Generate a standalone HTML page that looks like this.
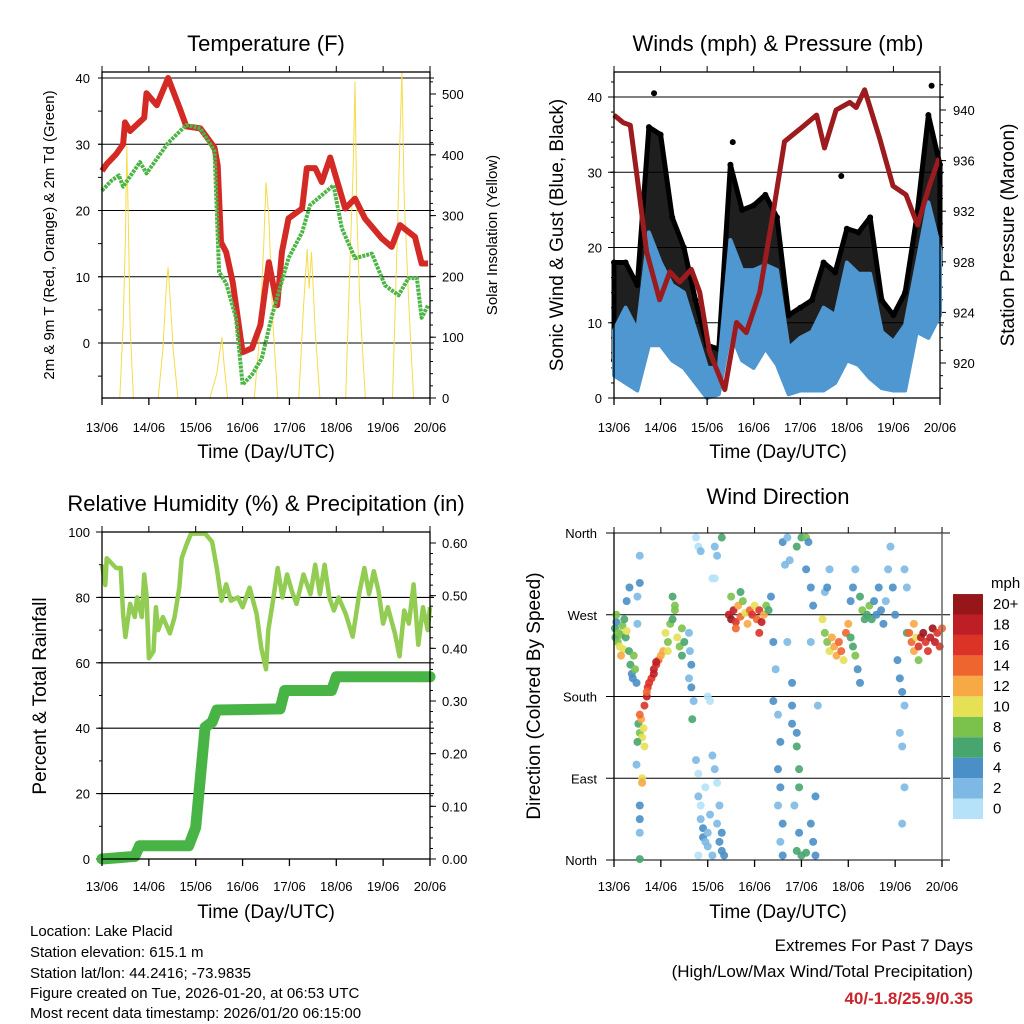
<!DOCTYPE html>
<html><head><meta charset="utf-8">
<style>
body{margin:0;background:#fff}
svg{display:block;font-family:"Liberation Sans",Arial,sans-serif}
</style></head><body>
<svg id="c" width="1024" height="1024" viewBox="0 0 1024 1024" xmlns="http://www.w3.org/2000/svg">
<rect width="1024" height="1024" fill="#fff"/>
<g id="g1"></g>
<g id="g2"></g>
<g id="g3"></g>
<g id="g4"></g>
<g font-size="15" fill="#000">
<text x="30" y="936">Location: Lake Placid</text>
<text x="30" y="957">Station elevation: 615.1 m</text>
<text x="30" y="978">Station lat/lon: 44.2416; -73.9835</text>
<text x="30" y="998">Figure created on Tue, 2026-01-20, at 06:53 UTC</text>
<text x="30" y="1018">Most recent data timestamp: 2026/01/20 06:15:00</text>
</g>
<g text-anchor="end">
<text x="973" y="951" font-size="17">Extremes For Past 7 Days</text>
<text x="973" y="977" font-size="17">(High/Low/Max Wind/Total Precipitation)</text>
<text x="973" y="1004" font-size="17" font-weight="bold" fill="#c8262c">40/-1.8/25.9/0.35</text>
</g>
</svg>
<script>
const dayLabels=["13/06","14/06","15/06","16/06","17/06","18/06","19/06","20/06"];
// Temperature panel
const tempDays=[0,0.1,0.3,0.45,0.49,0.6,0.75,0.9,0.95,1.17,1.41,1.66,1.8,2.1,2.4,2.47,2.54,2.65,2.79,3.0,3.2,3.38,3.56,3.74,3.84,3.98,4.27,4.37,4.55,4.69,4.87,5.19,5.4,5.61,5.97,6.18,6.36,6.68,6.82,6.96];
const tempVals=[26,27,28.5,30,33.3,32,33,34,37.7,35.9,40,35.4,32.7,32.4,29.5,26.8,15.2,13.7,9.2,-1.4,-0.8,2.7,12.2,5.7,13.7,18.8,20.3,26.4,26.4,24.3,28,20.3,21.8,18.8,15.8,14.5,17.8,16,12,12];
const dewDays=[0,0.2,0.36,0.45,0.81,0.95,1.41,1.8,2.1,2.4,2.5,2.65,2.86,3.0,3.2,3.41,3.63,3.98,4.27,4.44,4.94,5.12,5.4,5.76,6.04,6.33,6.54,6.72,6.82,6.96];
const dewVals=[23,24.5,25.3,23.6,27.3,25.6,30.2,32.9,32.4,29,10.7,9,3.8,-6.3,-4.8,-2.3,4.2,12.8,16.7,20.8,23.8,17.3,12.8,13.5,8.7,7.2,9.8,9.8,3.8,5.7];
const solarDays=[0,0.38,0.45,0.5,0.53,0.56,0.6,0.67,1.2,1.3,1.37,1.41,1.45,1.52,1.62,2.3,2.45,2.52,2.56,2.6,2.68,3.25,3.35,3.45,3.5,3.56,3.65,3.75,4.2,4.3,4.38,4.42,4.47,4.55,4.65,5.2,5.3,5.36,5.4,5.44,5.5,5.62,6.2,6.3,6.36,6.4,6.45,6.55,6.65,7];
const solarVals=[0,0,120,260,415,300,120,0,0,80,180,215,170,80,0,0,40,80,100,60,0,0,90,250,355,300,120,0,0,150,245,180,240,110,0,0,240,380,520,300,160,0,0,260,430,535,330,150,0,0];
// Winds panel
const windDays=[0,0.25,0.5,0.75,1,1.25,1.5,1.75,2,2.25,2.5,2.75,3,3.25,3.5,3.75,4,4.25,4.5,4.75,5,5.25,5.5,5.75,6,6.25,6.5,6.75,7];
const gustHi=[18,18,15,36,35,24,20,13,7,6.5,31,25,25.6,27,24,11,12,13,18,16.7,22.5,22,24,13,11,14,24,37.6,31];
const gustLo=[5,9,7,12.5,15,11,9,4,1,2,9,12,11,15.5,13,3.5,4,4.4,6.6,6.6,11,8.8,6.6,5,4.4,3.5,11,17,17.7];
const sonicHi=[9,12,9,22,18,15,14,9,4,4,21,17,17,17.7,17,6.6,8,8.8,12,11,18,16.5,16.5,8.8,7.5,9.7,17.7,26,19.8];
const sonicLo=[3,2,1,7,7,5,4,2,0,0.5,8.8,5,4,6.6,4.4,0.5,1,1,1,2,5,4.4,2.6,1.3,1,1,8.8,8,11];
const gustOutDays=[0.86,2.55,6.82,4.88];
const gustOutVals=[40.5,34,41.5,29.5];
const presDays=[0,0.2,0.35,0.49,0.7,0.98,1.2,1.41,1.66,1.84,2.05,2.38,2.63,2.84,3.13,3.41,3.66,4.06,4.35,4.52,4.77,5.06,5.2,5.38,5.7,5.99,6.27,6.52,6.77,6.98];
const presVals=[939.6,939,938.8,934.9,928.8,925,927.2,926.4,927.4,925.6,920.9,917.9,923.2,922.4,925.6,931.7,937.5,938.7,939.6,937,940,940.6,940.2,941.6,937.8,934,933.3,930.9,934,936.2];
// Humidity panel
const rhDays=[0,0.07,0.1,0.3,0.4,0.45,0.5,0.6,0.7,0.75,0.85,0.9,0.95,1.0,1.1,1.15,1.2,1.3,1.45,1.55,1.65,1.7,1.8,1.9,2.2,2.35,2.45,2.55,2.65,2.75,2.9,3.0,3.15,3.3,3.4,3.5,3.55,3.65,3.75,3.85,3.95,4.05,4.15,4.3,4.45,4.55,4.65,4.75,4.85,4.95,5.05,5.2,5.35,5.5,5.6,5.7,5.8,5.9,6.0,6.1,6.25,6.35,6.45,6.55,6.65,6.75,6.85,6.95,7.0];
const rhVals=[90,83.8,92,89,89,74.9,67.9,78,74,80,74,87,80.7,61.4,63.5,77,70,74,69,74,83,92,96,99.5,99.5,97,89,79,84,79,80,77,83,75,64.5,58,70,79,89,80,87,82,78,87,81,90,81,90,80,76,80,75,68,82,89,81,88,82,72,77,69,62,76,72,84,65.5,77,70,77];
const precipDays=[0,0.7,0.8,1.85,2.0,2.1,2.2,2.35,2.45,3.8,3.9,4.9,5.0,7.0];
const precipVals=[0,0.005,0.025,0.025,0.06,0.155,0.25,0.26,0.283,0.285,0.32,0.32,0.346,0.346];
// Wind direction panel: day, direction deg, speed mph
const dirDays=[0.02,0.03,0.05,0.08,0.1,0.12,0.15,0.18,0.2,0.22,0.25,0.27,0.05,0.15,0.32,0.35,0.38,0.4,0.42,0.45,0.48,0.33,0.27,0.55,0.55,0.5,0.5,0.52,0.55,0.58,0.6,0.63,0.65,0.55,0.5,0.48,0.6,0.6,0.55,0.55,0.55,0.55,0.65,0.7,0.72,0.75,0.8,0.85,0.9,0.95,1.0,1.05,0.7,0.85,0.9,1.1,1.15,1.2,1.25,1.3,1.35,1.4,1.45,1.5,1.25,1.3,1.15,1.45,1.6,1.62,1.65,1.6,1.65,1.7,1.67,1.75,1.8,1.8,1.85,1.85,1.9,1.9,1.95,2.0,2.0,1.95,2.05,2.1,2.15,2.2,2.2,2.25,2.3,2.35,2.3,2.25,1.8,2.1,2.0,2.05,1.75,1.8,1.85,2.15,2.2,2.3,2.1,2.15,2.45,2.5,2.55,2.6,2.65,2.7,2.75,2.8,2.85,2.9,2.95,3.0,3.05,3.1,3.15,3.2,3.25,3.3,2.6,2.7,2.5,3.1,3.35,3.4,3.45,3.4,3.5,3.55,3.5,3.55,3.5,3.6,3.55,3.6,3.6,3.65,3.7,3.75,3.7,3.8,3.8,3.8,3.9,3.9,3.95,3.95,3.85,3.95,3.9,4.0,4.0,3.9,4.1,4.15,4.1,4.2,4.25,4.2,4.3,4.2,4.25,4.3,4.1,4.35,4.45,4.5,4.55,4.6,4.65,4.7,4.75,4.8,4.85,4.9,4.95,5.0,5.05,5.1,5.15,5.05,5.1,5.15,5.25,5.3,5.35,5.4,5.45,5.5,5.55,5.6,5.2,5.25,4.5,4.55,4.6,5.65,5.7,5.75,5.8,5.85,5.9,5.95,6.0,6.05,6.1,6.15,6.2,6.1,6.15,6.2,6.15,6.2,6.25,6.25,6.3,6.35,6.4,6.45,6.5,6.55,6.6,6.65,6.7,6.75,6.8,6.85,6.9,6.95,7.0,6.4,6.5];
const dirVals=[255,245,262,240,250,235,248,258,232,265,245,252,270,225,230,215,205,200,225,210,195,300,285,305,335,290,260,150,140,155,135,145,125,160,130,105,90,85,60,45,30,1,170,180,190,195,200,210,215,220,225,230,185,205,218,250,240,260,265,275,245,235,255,240,290,280,230,225,250,230,215,200,190,175,155,110,95,70,60,45,35,25,20,30,15,80,50,115,100,85,40,20,10,5,30,60,5,5,180,175,355,345,340,345,335,355,310,310,270,265,275,262,280,268,285,272,260,275,270,280,265,275,262,270,280,275,255,295,290,250,290,240,210,175,160,130,100,80,60,40,20,5,350,325,355,330,240,195,170,150,140,125,100,80,60,30,10,5,355,345,355,350,320,300,280,240,70,40,20,5,8,170,265,250,240,230,245,235,225,240,230,220,250,260,245,235,225,285,300,320,290,275,265,270,280,265,285,270,210,195,295,300,320,300,275,260,285,320,345,300,270,220,200,185,170,140,125,80,40,320,300,250,250,240,230,245,235,245,250,240,230,245,255,240,250,235,255,260,220];
const dirSpeeds=[6,7,5,8,9,11,8,9,10,7,6,10,8,12,7,6,5,4,9,8,4,4,4,4,2,2,3,7,8,12,10,11,10,14,6,2,11,12,4,4,2,6,17,18,16,17,16,18,16,14,13,12,14,19,18,10,9,8,7,8,10,9,8,6,7,9,11,7,3,2,4,3,5,2,6,2,1,2,1,2,4,4,3,3,2,1,2,3,2,1,3,4,4,4,5,2,1,2,1,0,1,1,2,2,3,6,0,1,18,20,19,16,12,14,8,10,12,15,17,11,14,16,18,12,8,6,14,7,8,17,4,4,3,4,3,4,4,4,3,4,2,4,4,3,2,3,2,4,4,4,5,6,7,6,3,4,6,7,7,6,8,4,4,4,4,2,4,5,4,4,6,2,10,8,9,10,12,13,12,14,15,10,14,12,6,7,8,4,4,3,6,8,7,6,8,7,4,4,4,4,2,4,3,4,4,4,3,2,2,4,4,4,4,4,3,2,2,3,2,2,3,6,14,15,12,10,16,18,20,17,16,19,20,18,17,16,15,12,8];
const cbLabels=["0","2","4","6","8","10","12","14","16","18","20+"];
const cbColors=["#b5e2f8","#7db9e4","#4a8fc7","#47a56e","#7bc24c","#e6e055","#f7a946","#ef6530","#dc3327","#be1e25","#97161a"];

const NS="http://www.w3.org/2000/svg";
function mk(parent,tag,attrs){const e=document.createElementNS(NS,tag);for(const k in attrs)e.setAttribute(k,attrs[k]);parent.appendChild(e);return e;}
function txt(parent,x,y,s,size,anchor,extra){const t=mk(parent,'text',Object.assign({x:x,y:y,'font-size':size,'text-anchor':anchor||'middle'},extra||{}));t.textContent=s;return t;}
function lin(d0,d1,r0,r1){return v=>r0+(v-d0)/(d1-d0)*(r1-r0);}
function path(xs,ys,fx,fy){return xs.map((d,i)=>(i?'L':'M')+fx(d).toFixed(1)+','+fy(ys[i]).toFixed(1)).join('');}

function frame(g,L,R,T,B,fx,bottomY){
  for(let i=0;i<8;i++){const x=fx(i);
    mk(g,'line',{x1:x,y1:B,x2:x,y2:B+7,stroke:'#000','stroke-width':1.3});
    mk(g,'line',{x1:x,y1:T,x2:x,y2:T-6,stroke:'#000','stroke-width':1});
    const t=txt(g,x,bottomY,dayLabels[i],13);
    
    }
}

// ===== Panel 1 =====
(function(){
const g=document.getElementById('g1');
const L=102,R=430,T=72,B=398;
const fx=lin(0,7,L,R), fy=lin(0,40,343,78), fs=lin(0,500,398,94);
[0,10,20,30,40].forEach(v=>{const l=mk(g,'line',{x1:L-4,x2:R+4,y1:fy(v),y2:fy(v),stroke:'#000','stroke-width':1.1});
 
 const t=txt(g,L-12,fy(v)+5,String(v),13,'end');});
for(let v=-5;v<=40;v+=5)mk(g,'line',{x1:L-4,x2:L,y1:fy(v),y2:fy(v),stroke:'#000'});
[0,100,200,300,400,500].forEach(v=>{mk(g,'line',{x1:R,x2:R+6,y1:fs(v),y2:fs(v),stroke:'#000'});
 const t=txt(g,R+12,fs(v)+5,String(v),13,'start');});
for(let v=0;v<=520;v+=20)mk(g,'line',{x1:R,x2:R+3,y1:fs(v),y2:fs(v),stroke:'#000'});
const sol=mk(g,'path',{d:path(solarDays,solarVals,fx,fs),fill:'none',stroke:'#f5dc4a','stroke-width':1});

const tl=mk(g,'path',{d:path(tempDays,tempVals,fx,fy),fill:'none',stroke:'#d42a26','stroke-width':6,'stroke-linejoin':'round'});

const dl=mk(g,'path',{d:path(dewDays,dewVals,fx,fy),fill:'none',stroke:'#4db446','stroke-width':4,'stroke-dasharray':'3 1','stroke-linejoin':'round'});

mk(g,'rect',{x:L,y:T,width:R-L,height:B-T,fill:'none',stroke:'#000','stroke-width':1.3});
frame(g,L,R,T,B,fx,432);
const t1=txt(g,266,51,'Temperature (F)',22);
const t2=txt(g,266,458,'Time (Day/UTC)',19);
const t3=txt(g,0,0,'2m & 9m T (Red, Orange) & 2m Td (Green)',15,'middle',{transform:'translate(54,235) rotate(-90)'});
const t4=txt(g,0,0,'Solar Insolation (Yellow)',15,'middle',{transform:'translate(497,235) rotate(-90)'});
})();

// ===== Panel 2 =====
(function(){
const g=document.getElementById('g2');
const L=614,R=940,T=72,B=398;
const fx=lin(0,7,L,R), fy=lin(0,40,398,97), fp=lin(920,940,363,110);
[10,20,30,40].forEach(v=>{const l=mk(g,'line',{x1:L-4,x2:R+4,y1:fy(v),y2:fy(v),stroke:'#000','stroke-width':1.1});
 });
[0,10,20,30,40].forEach(v=>{mk(g,'line',{x1:L-6,x2:L,y1:fy(v),y2:fy(v),stroke:'#000'});
 const t=txt(g,L-12,fy(v)+5,String(v),13,'end');});
for(let v=0;v<=42;v+=2)mk(g,'line',{x1:L-3,x2:L,y1:fy(v),y2:fy(v),stroke:'#000'});
[920,924,928,932,936,940].forEach(v=>{mk(g,'line',{x1:R,x2:R+6,y1:fp(v),y2:fp(v),stroke:'#000'});
 const t=txt(g,R+13,fp(v)+5,String(v),13,'start');});
for(let v=918;v<=942;v+=1)mk(g,'line',{x1:R,x2:R+3,y1:fp(v),y2:fp(v),stroke:'#000'});
let d='M'+windDays.map((t,i)=>fx(t).toFixed(1)+','+fy(gustHi[i]).toFixed(1)).join('L');
for(let i=windDays.length-1;i>=0;i--)d+='L'+fx(windDays[i]).toFixed(1)+','+fy(gustLo[i]).toFixed(1);
const gb=mk(g,'path',{d:d+'Z',fill:'#000','fill-opacity':0.88,stroke:'#000','stroke-width':5,'stroke-linejoin':'round'});

windDays.forEach((t,i)=>{[gustHi[i],gustLo[i]].forEach(v=>{const c=mk(g,'circle',{cx:fx(t),cy:fy(v),r:3,fill:'#000'});
 });});
gustOutDays.forEach((t,i)=>{const c=mk(g,'circle',{cx:fx(t),cy:fy(gustOutVals[i]),r:3,fill:'#000'});
 });
let d2='M'+windDays.map((t,i)=>fx(t).toFixed(1)+','+fy(sonicHi[i]).toFixed(1)).join('L');
for(let i=windDays.length-1;i>=0;i--)d2+='L'+fx(windDays[i]).toFixed(1)+','+fy(sonicLo[i]).toFixed(1);
const sb=mk(g,'path',{d:d2+'Z',fill:'#4f97d0',stroke:'#4f97d0','stroke-width':4,'stroke-linejoin':'round'});

const pl=mk(g,'path',{d:path(presDays,presVals,fx,fp),fill:'none',stroke:'#9b1b1e','stroke-width':5,'stroke-linejoin':'round'});

mk(g,'rect',{x:L,y:T,width:R-L,height:B-T,fill:'none',stroke:'#000','stroke-width':1.3});
frame(g,L,R,T,B,fx,432);
const t1=txt(g,778,51,'Winds (mph) & Pressure (mb)',22);
const t2=txt(g,778,458,'Time (Day/UTC)',19);
const t3=txt(g,0,0,'Sonic Wind & Gust (Blue, Black)',19,'middle',{transform:'translate(563,235) rotate(-90)'});
const t4=txt(g,0,0,'Station Pressure (Maroon)',19,'middle',{transform:'translate(1014,235) rotate(-90)'});
})();

// ===== Panel 3 =====
(function(){
const g=document.getElementById('g3');
const L=102,R=430,T=532,B=859;
const fx=lin(0,7,L,R), fy=lin(0,100,859,532), fp=lin(0,0.6,859,543);
[20,40,60,80].forEach(v=>{const l=mk(g,'line',{x1:L-4,x2:R+4,y1:fy(v),y2:fy(v),stroke:'#000','stroke-width':1.1});
 });
[0,20,40,60,80,100].forEach(v=>{mk(g,'line',{x1:L-6,x2:L,y1:fy(v),y2:fy(v),stroke:'#000'});
 const t=txt(g,L-12,fy(v)+5,String(v),13,'end');});
for(let v=0;v<=100;v+=10)mk(g,'line',{x1:L-3,x2:L,y1:fy(v),y2:fy(v),stroke:'#000'});
[0,0.1,0.2,0.3,0.4,0.5,0.6].forEach(v=>{mk(g,'line',{x1:R,x2:R+6,y1:fp(v),y2:fp(v),stroke:'#000'});
 const t=txt(g,R+12,fp(v)+5,v.toFixed(2),13,'start');});
for(let v=0;v<=0.6;v+=0.02)mk(g,'line',{x1:R,x2:R+3,y1:fp(v),y2:fp(v),stroke:'#000'});
const rl=mk(g,'path',{d:path(rhDays,rhVals,fx,fy),fill:'none',stroke:'#92cc52','stroke-width':4.5,'stroke-linejoin':'round'});

const pr=mk(g,'path',{d:path(precipDays,precipVals,fx,fp),fill:'none',stroke:'#48b446','stroke-width':11,'stroke-linejoin':'round','stroke-linecap':'round'});

mk(g,'rect',{x:L,y:T,width:R-L,height:B-T,fill:'none',stroke:'#000','stroke-width':1.3});
frame(g,L,R,T,B,fx,891);
const t1=txt(g,266,511,'Relative Humidity (%) & Precipitation (in)',22);
const t2=txt(g,266,918,'Time (Day/UTC)',19);
const t3=txt(g,0,0,'Percent & Total Rainfall',19,'middle',{transform:'translate(46,696) rotate(-90)'});
})();

// ===== Panel 4 =====
(function(){
const g=document.getElementById('g4');
const L=614,R=942,T=533,B=860;
const fx=lin(0,7,L,R), fy=lin(0,360,860,533);
const names=['North','East','South','West','North'];
[0,90,180,270,360].forEach((v,i)=>{const l=mk(g,'line',{x1:L-8,x2:R+8,y1:fy(v),y2:fy(v),stroke:'#000','stroke-width':1.1});
 
 const t=txt(g,597,fy(v)+5,names[i],13,'end');});
dirDays.forEach((t,i)=>{const idx=Math.min(10,Math.floor(dirSpeeds[i]/2));
 const c=mk(g,'circle',{cx:fx(t),cy:fy(dirVals[i]),r:4,fill:cbColors[idx],'fill-opacity':0.9});
 });
mk(g,'line',{x1:L,x2:L,y1:T,y2:B,stroke:'#000','stroke-width':1.3});
mk(g,'line',{x1:R,x2:R,y1:T,y2:B,stroke:'#666','stroke-width':1.5});
frame(g,L,R,T,B,fx,891);
cbColors.forEach((c,i)=>{const y=819-(i+1)*20.45;
 const r=mk(g,'rect',{x:953,y:y,width:30,height:20.45,fill:c});
 
 const t=txt(g,993,y+15,cbLabels[i],15,'start');});
txt(g,991,588,'mph',15,'start');
const t1=txt(g,778,504,'Wind Direction',22);
const t2=txt(g,778,918,'Time (Day/UTC)',19);
const t3=txt(g,0,0,'Direction (Colored By Speed)',19,'middle',{transform:'translate(540,696) rotate(-90)'});
})();
</script>
</body></html>
